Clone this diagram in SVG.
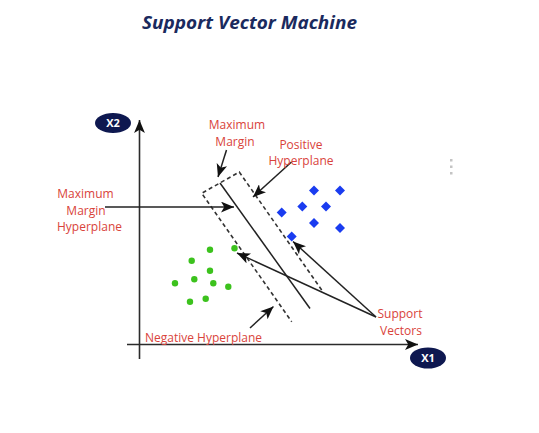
<svg xmlns="http://www.w3.org/2000/svg" width="539" height="433" viewBox="0 0 539 433">
<style>
.lbl{font-family:"Open Sans","Liberation Sans",sans-serif;font-size:12px;fill:#d9433b;text-anchor:middle}
.ax{stroke:#2b2b2b;stroke-width:1.6;fill:none}
.ln{stroke:#222;stroke-width:1.5;fill:none}
.dash{stroke:#333;stroke-width:1.6;fill:none;stroke-dasharray:4,3}
.pt{fill:#3cc21d}
.dm{fill:#1a3cf0}
.badge{fill:#0e1850}
.bt{font-family:"Open Sans","Liberation Sans",sans-serif;font-size:11px;font-weight:bold;fill:#fff;text-anchor:middle}
</style>
<defs>
<marker id="ah" viewBox="0 0 12 10" refX="12" refY="5" markerWidth="13" markerHeight="11" orient="auto" markerUnits="userSpaceOnUse">
<path d="M0,0 L12,5 L0,10 L3,5 z" fill="#111"/>
</marker>
</defs>
<rect width="539" height="433" fill="#fff"/>
<text x="249.5" y="29" font-family="'Open Sans','Liberation Sans',sans-serif" font-size="18" font-weight="bold" font-style="italic" fill="#1a2a5e" text-anchor="middle" textLength="215" lengthAdjust="spacingAndGlyphs">Support Vector Machine</text>
<g id="axes">
<line class="ax" x1="139.5" y1="359" x2="139.5" y2="120" marker-end="url(#ah)"/>
<line class="ax" x1="127" y1="344.5" x2="418" y2="344.5" marker-end="url(#ah)"/>
</g>
<g id="x2"><ellipse class="badge" cx="113" cy="123" rx="18" ry="10"/><text class="bt" x="113" y="127">X2</text></g>
<g id="x1"><ellipse class="badge" cx="428" cy="358" rx="18" ry="10.5"/><text class="bt" x="428" y="362">X1</text></g>
<g id="margin-band">
<path class="dash" d="M321.7,290 L239.3,172 L201.7,193.3 L291.7,321.7"/>
<line class="ln" x1="220" y1="183" x2="310" y2="308.5"/>
</g>
<g id="negative-points">
<circle class="pt" cx="210" cy="249.7" r="3.2"/>
<circle class="pt" cx="234.5" cy="248.3" r="3.2"/>
<circle class="pt" cx="191.7" cy="260.7" r="3.2"/>
<circle class="pt" cx="210" cy="270.7" r="3.2"/>
<circle class="pt" cx="194.3" cy="279.3" r="3.2"/>
<circle class="pt" cx="213.3" cy="283.3" r="3.2"/>
<circle class="pt" cx="175" cy="283.3" r="3.2"/>
<circle class="pt" cx="228.3" cy="286.7" r="3.2"/>
<circle class="pt" cx="190" cy="301.7" r="3.2"/>
<circle class="pt" cx="205.7" cy="298.7" r="3.2"/>
</g>
<g id="positive-points">
<path class="dm" d="M314,185.5 l5,5 -5,5 -5,-5z"/>
<path class="dm" d="M340,185.5 l5,5 -5,5 -5,-5z"/>
<path class="dm" d="M302.3,201.5 l5,5 -5,5 -5,-5z"/>
<path class="dm" d="M326,201.5 l5,5 -5,5 -5,-5z"/>
<path class="dm" d="M281.7,207.5 l5,5 -5,5 -5,-5z"/>
<path class="dm" d="M314,218 l5,5 -5,5 -5,-5z"/>
<path class="dm" d="M340,223 l5,5 -5,5 -5,-5z"/>
<path class="dm" d="M291.7,231.5 l5,5 -5,5 -5,-5z"/>
</g>
<g id="connectors">
<line class="ln" x1="226.5" y1="150" x2="218" y2="177" marker-end="url(#ah)"/>
<line class="ln" x1="291.5" y1="162" x2="253" y2="197" marker-end="url(#ah)"/>
<line class="ln" x1="105" y1="207" x2="234" y2="207" marker-end="url(#ah)"/>
<line class="ln" x1="376" y1="317" x2="237" y2="253" marker-end="url(#ah)"/>
<line class="ln" x1="376" y1="317" x2="293" y2="241.5" marker-end="url(#ah)"/>
<line class="ln" x1="250" y1="328" x2="273.5" y2="306.5" marker-end="url(#ah)"/>
</g>
<g id="label-max-margin"><text class="lbl" x="237" y="129">Maximum</text><text class="lbl" x="235" y="145.5">Margin</text></g>
<g id="label-positive"><text class="lbl" x="301" y="148.5">Positive</text><text class="lbl" x="301" y="165">Hyperplane</text></g>
<g id="label-mmh"><text class="lbl" x="85.5" y="198">Maximum</text><text class="lbl" x="86" y="214.5">Margin</text><text class="lbl" x="89.5" y="231">Hyperplane</text></g>
<g id="label-negative"><text class="lbl" x="203.5" y="341.5">Negative Hyperplane</text></g>
<g id="label-sv"><text class="lbl" x="400" y="318">Support</text><text class="lbl" x="401" y="334.5">Vectors</text></g>
<g id="dots" fill="#c4c4c4"><rect x="450" y="159" width="2.5" height="2.5"/><rect x="450" y="165.5" width="2.5" height="2.5"/><rect x="450" y="172" width="2.5" height="2.5"/></g>
</svg>
